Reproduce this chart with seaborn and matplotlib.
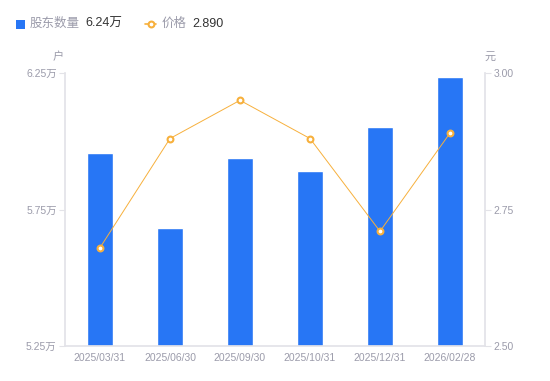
import matplotlib
matplotlib.use("Agg")
import matplotlib.pyplot as plt
import seaborn as sns
import pandas as pd
from matplotlib.lines import Line2D
from matplotlib.patches import Rectangle

# data
dates = ["2025/03/31", "2025/06/30", "2025/09/30", "2025/10/31", "2025/12/31", "2026/02/28"]
holders = [59570, 56820, 59390, 58910, 60520, 62350]   # 股东数量 (户)
price = [2.680, 2.880, 2.950, 2.880, 2.710, 2.890]      # 价格 (元)

left_ticks = [52500, 57500, 62500]
right_ticks = [2.50, 2.75, 3.00]

BLUE = "#2776F5"
ORANGE = "#F7B03C"
GREY = "#9B9BAA"
AXIS = "#E3E3E8"

sns.set_theme(style="white")
plt.rcParams["font.family"] = ["Liberation Sans", "Noto Sans CJK SC", "DejaVu Sans"]

df = pd.DataFrame({"date": dates, "holders": holders, "price": price})

fig = plt.figure(figsize=(5.5, 3.81), dpi=100)
ax = fig.add_axes([65 / 550, 1 - 346 / 381, 420 / 550, 273 / 381])

sns.barplot(data=df, x="date", y="holders", color=BLUE, width=0.36,
            saturation=1, ax=ax)
ax.set_ylim(left_ticks[0], left_ticks[-1])
ax.set_xlim(-0.5, len(dates) - 0.5)
ax.set_yticks(left_ticks)
ax.set_yticklabels([f"{v / 10000:.2f}万" for v in left_ticks])
ax.set_xlabel("")
ax.set_ylabel("")

ax2 = ax.twinx()
ax2.plot(range(len(dates)), df["price"], color=ORANGE, lw=0.7,
         marker="o", ms=4.2, mfc="white", mec=ORANGE, mew=1.5)
ax2.set_ylim(right_ticks[0], right_ticks[-1])
ax2.set_yticks(right_ticks)
ax2.set_yticklabels([f"{v:.2f}" for v in right_ticks])

for a in (ax, ax2):
    for s in a.spines.values():
        s.set_visible(False)
    a.tick_params(axis="both", colors=GREY, labelsize=7.5, length=4, width=0.8,
                  pad=2)
    a.tick_params(axis="y", color=AXIS)
ax.tick_params(axis="x", length=0, pad=5)
ax.spines["left"].set_visible(True)
ax.spines["left"].set_color(AXIS)
ax.spines["bottom"].set_visible(True)
ax.spines["bottom"].set_color(AXIS)
ax2.spines["right"].set_visible(True)
ax2.spines["right"].set_color(AXIS)
for a in (ax, ax2):
    for lab in a.get_xticklabels() + a.get_yticklabels():
        lab.set_color(GREY)

# unit labels
fig.text(58 / 550, 1 - 57 / 381, "户", color=GREY, fontsize=8, ha="center", va="center")
fig.text(490 / 550, 1 - 57 / 381, "元", color=GREY, fontsize=8, ha="center", va="center")

# legend row
fig.patches.append(Rectangle((16 / 550, 1 - 29 / 381), 9 / 550, 9 / 381,
                             transform=fig.transFigure, color=BLUE, lw=0))
fig.text(30 / 550, 1 - 24 / 381, "股东数量", color=GREY, fontsize=9, va="center")
fig.text(85 / 550, 1 - 24 / 381, f"{holders[-1] / 10000:.2f}万", color="#333333",
         fontsize=9, va="center")
fig.lines.append(Line2D([145 / 550, 156 / 550], [1 - 24 / 381, 1 - 24 / 381],
                        transform=fig.transFigure, color=ORANGE, lw=1.2))
fig.lines.append(Line2D([150.5 / 550], [1 - 24 / 381], transform=fig.transFigure,
                        color=ORANGE, marker="o", ms=4.2, mfc="white", mew=1.5, lw=0))
fig.text(162 / 550, 1 - 24 / 381, "价格", color=GREY, fontsize=9, va="center")
fig.text(192 / 550, 1 - 24 / 381, f"{price[-1]:.3f}", color="#333333",
         fontsize=9, va="center")

fig.savefig("out.png", dpi=100)
